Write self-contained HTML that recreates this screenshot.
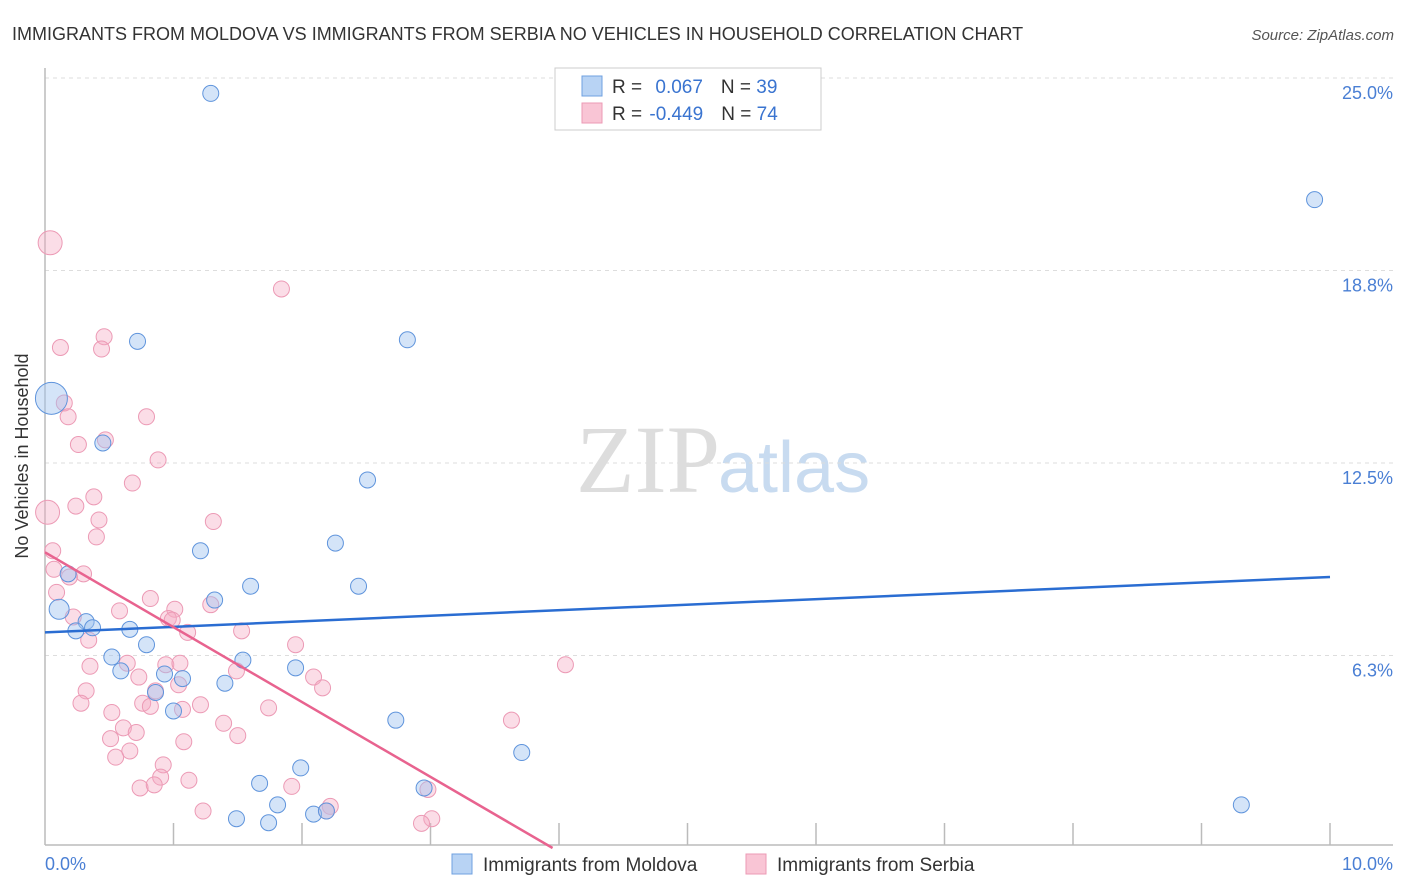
<!DOCTYPE html>
<html><head><meta charset="utf-8"><style>
body{margin:0;background:#fff;font-family:"Liberation Sans",sans-serif;}
svg{display:block}
</style></head><body>
<svg width="1406" height="892" id="chart" font-family="Liberation Sans, sans-serif">
<text x="12" y="40" font-size="18" fill="#333">IMMIGRANTS FROM MOLDOVA VS IMMIGRANTS FROM SERBIA NO VEHICLES IN HOUSEHOLD CORRELATION CHART</text>
<text x="1394" y="40" font-size="15" fill="#555" font-style="italic" text-anchor="end">Source: ZipAtlas.com</text>
<text x="720" y="492" font-size="96" fill="#ddd" font-family="Liberation Serif, serif" text-anchor="end">ZIP</text>
<text x="718" y="492" font-size="72" fill="#c8dbf0">atlas</text>
<g id="grid"></g>
<line x1="45" y1="68" x2="45" y2="845" stroke="#bbb" stroke-width="1.5"/>
<line x1="45" y1="845" x2="1393" y2="845" stroke="#bbb" stroke-width="1.5"/>
<text x="28" y="456" font-size="18" fill="#333" transform="rotate(-90 28 456)" text-anchor="middle">No Vehicles in Household</text>
<text x="45" y="870" font-size="18" fill="#4a7fd4">0.0%</text>
<text x="1393" y="870" font-size="18" fill="#4a7fd4" text-anchor="end">10.0%</text>
<g id="pts"></g>
<g id="trends"></g>
<g>
<rect x="555" y="68" width="266" height="62" fill="#fff" stroke="#ccc"/>
<rect x="582" y="76" width="20" height="20" fill="#b8d3f4" stroke="#6fa0e0"/>
<rect x="582" y="103" width="20" height="20" fill="#f9c5d5" stroke="#ec9ab5"/>
<text x="612" y="93" font-size="19" fill="#333">R = <tspan fill="#3a74d0" dx="8">0.067</tspan><tspan dx="18">N = </tspan><tspan fill="#3a74d0">39</tspan></text>
<text x="612" y="120" font-size="19" fill="#333">R = <tspan fill="#3a74d0" dx="2">-0.449</tspan><tspan dx="18">N = </tspan><tspan fill="#3a74d0">74</tspan></text>
</g>
<g>
<rect x="452" y="854" width="20" height="20" fill="#b8d3f4" stroke="#6fa0e0"/>
<text x="483" y="871" font-size="19" fill="#333">Immigrants from Moldova</text>
<rect x="746" y="854" width="20" height="20" fill="#f9c5d5" stroke="#ec9ab5"/>
<text x="777" y="871" font-size="19" fill="#333">Immigrants from Serbia</text>
</g>
</svg>
<script>
const yTicks=[6.25,12.5,18.75,25];
const yTickLabels=["6.3%","12.5%","18.8%","25.0%"];
const xTicks=[1,2,3,4,5,6,7,8,9,10];
const moldovaX=[1.29,9.88,0.72,2.82,0.05,0.45,2.51,2.26,1.21,0.18,1.6,2.44,1.32,0.11,0.32,0.37,0.24,0.66,0.79,0.52,1.54,1.95,0.59,0.93,1.07,1.4,0.86,1.0,2.73,3.71,1.99,1.67,2.95,1.81,9.31,1.49,1.74,2.09,2.19];
const moldovaY=[24.5,21.05,16.45,16.5,14.6,13.15,11.95,9.9,9.65,8.9,8.5,8.5,8.05,7.75,7.35,7.15,7.05,7.1,6.6,6.2,6.1,5.85,5.75,5.65,5.5,5.35,5.05,4.45,4.15,3.1,2.6,2.1,1.95,1.4,1.4,0.95,0.82,1.1,1.2];
const moldovaR=[8,8,8,8,16,8,8,8,8,8,8,8,8,10,8,8,8,8,8,8,8,8,8,8,8,8,8,8,8,8,8,8,8,8,8,8,8,8,8];
const serbiaX=[0.04,1.84,0.46,0.12,0.44,0.15,0.18,0.79,0.26,0.47,0.88,0.68,0.38,0.24,0.02,0.42,1.31,0.4,0.06,0.07,0.3,0.19,0.09,0.82,1.01,0.58,1.29,0.22,0.96,0.99,1.11,1.53,0.34,1.95,0.64,0.94,1.05,0.35,0.73,1.49,2.09,1.04,4.05,2.16,0.32,0.86,0.28,0.76,0.82,1.21,1.07,1.74,0.52,3.63,1.39,0.61,0.71,1.5,0.51,1.08,0.66,0.55,0.92,1.12,0.9,1.92,0.74,0.85,2.98,1.23,2.22,2.19,3.01,2.93];
const serbiaY=[19.65,18.15,16.6,16.25,16.2,14.45,14.0,14.0,13.1,13.25,12.6,11.85,11.4,11.1,10.9,10.65,10.6,10.1,9.65,9.05,8.9,8.8,8.3,8.1,7.75,7.7,7.9,7.5,7.45,7.4,7.0,7.05,6.75,6.6,6.0,5.95,6.0,5.9,5.55,5.75,5.55,5.3,5.95,5.2,5.1,5.1,4.7,4.7,4.6,4.65,4.5,4.55,4.4,4.15,4.05,3.9,3.75,3.65,3.55,3.45,3.15,2.95,2.7,2.2,2.3,2.0,1.95,2.05,1.9,1.2,1.35,1.2,0.95,0.8];
const serbiaR=[12,8,8,8,8,8,8,8,8,8,8,8,8,8,12,8,8,8,8,8,8,8,8,8,8,8,8,8,8,8,8,8,8,8,8,8,8,8,8,8,8,8,8,8,8,8,8,8,8,8,8,8,8,8,8,8,8,8,8,8,8,8,8,8,8,8,8,8,8,8,8,8,8,8];
const moldovaTrend=[7.0,8.8];
const serbiaTrend=[9.6,0];
const serbiaTrendEndX=3.95;
const ns="http://www.w3.org/2000/svg";
const X=v=>45+v/10*1285, Y=v=>848-v/25*770;
function mk(t,a,p){const e=document.createElementNS(ns,t);for(const k in a)e.setAttribute(k,a[k]);p.appendChild(e);return e;}
const grid=document.getElementById('grid');
yTicks.forEach((v,i)=>{
 const l=mk('line',{x1:45,x2:1393,y1:Y(v),y2:Y(v),stroke:'#ddd','stroke-dasharray':'4,4'},grid);
 
 
 const t=mk('text',{x:1393,y:Y(v)+21,'font-size':18,fill:'#4a7fd4','text-anchor':'end'},grid);
 t.textContent=yTickLabels[i];
 
 
});
xTicks.forEach(v=>{
 const l=mk('line',{x1:X(v),x2:X(v),y1:823,y2:845,stroke:'#bbb','stroke-width':1.5},grid);
 
 
});
const pts=document.getElementById('pts');
serbiaX.forEach((x,i)=>{
 const c=mk('circle',{cx:X(x),cy:Y(serbiaY[i]),r:serbiaR[i],fill:'rgba(245,170,195,0.4)',stroke:'#ec9ab5','stroke-width':1},pts);
 
 
});
moldovaX.forEach((x,i)=>{
 const c=mk('circle',{cx:X(x),cy:Y(moldovaY[i]),r:moldovaR[i],fill:'rgba(160,195,240,0.45)',stroke:'#5f94dc','stroke-width':1},pts);
 
 
});
const tr=document.getElementById('trends');
const b=mk('line',{x1:X(0),y1:Y(moldovaTrend[0]),x2:X(10),y2:Y(moldovaTrend[1]),stroke:'#2a6dd2','stroke-width':2.5},tr);


const p=mk('line',{x1:X(0),y1:Y(serbiaTrend[0]),x2:X(serbiaTrendEndX),y2:Y(serbiaTrend[1]),stroke:'#e8638f','stroke-width':2.5},tr);


</script>
</body></html>
